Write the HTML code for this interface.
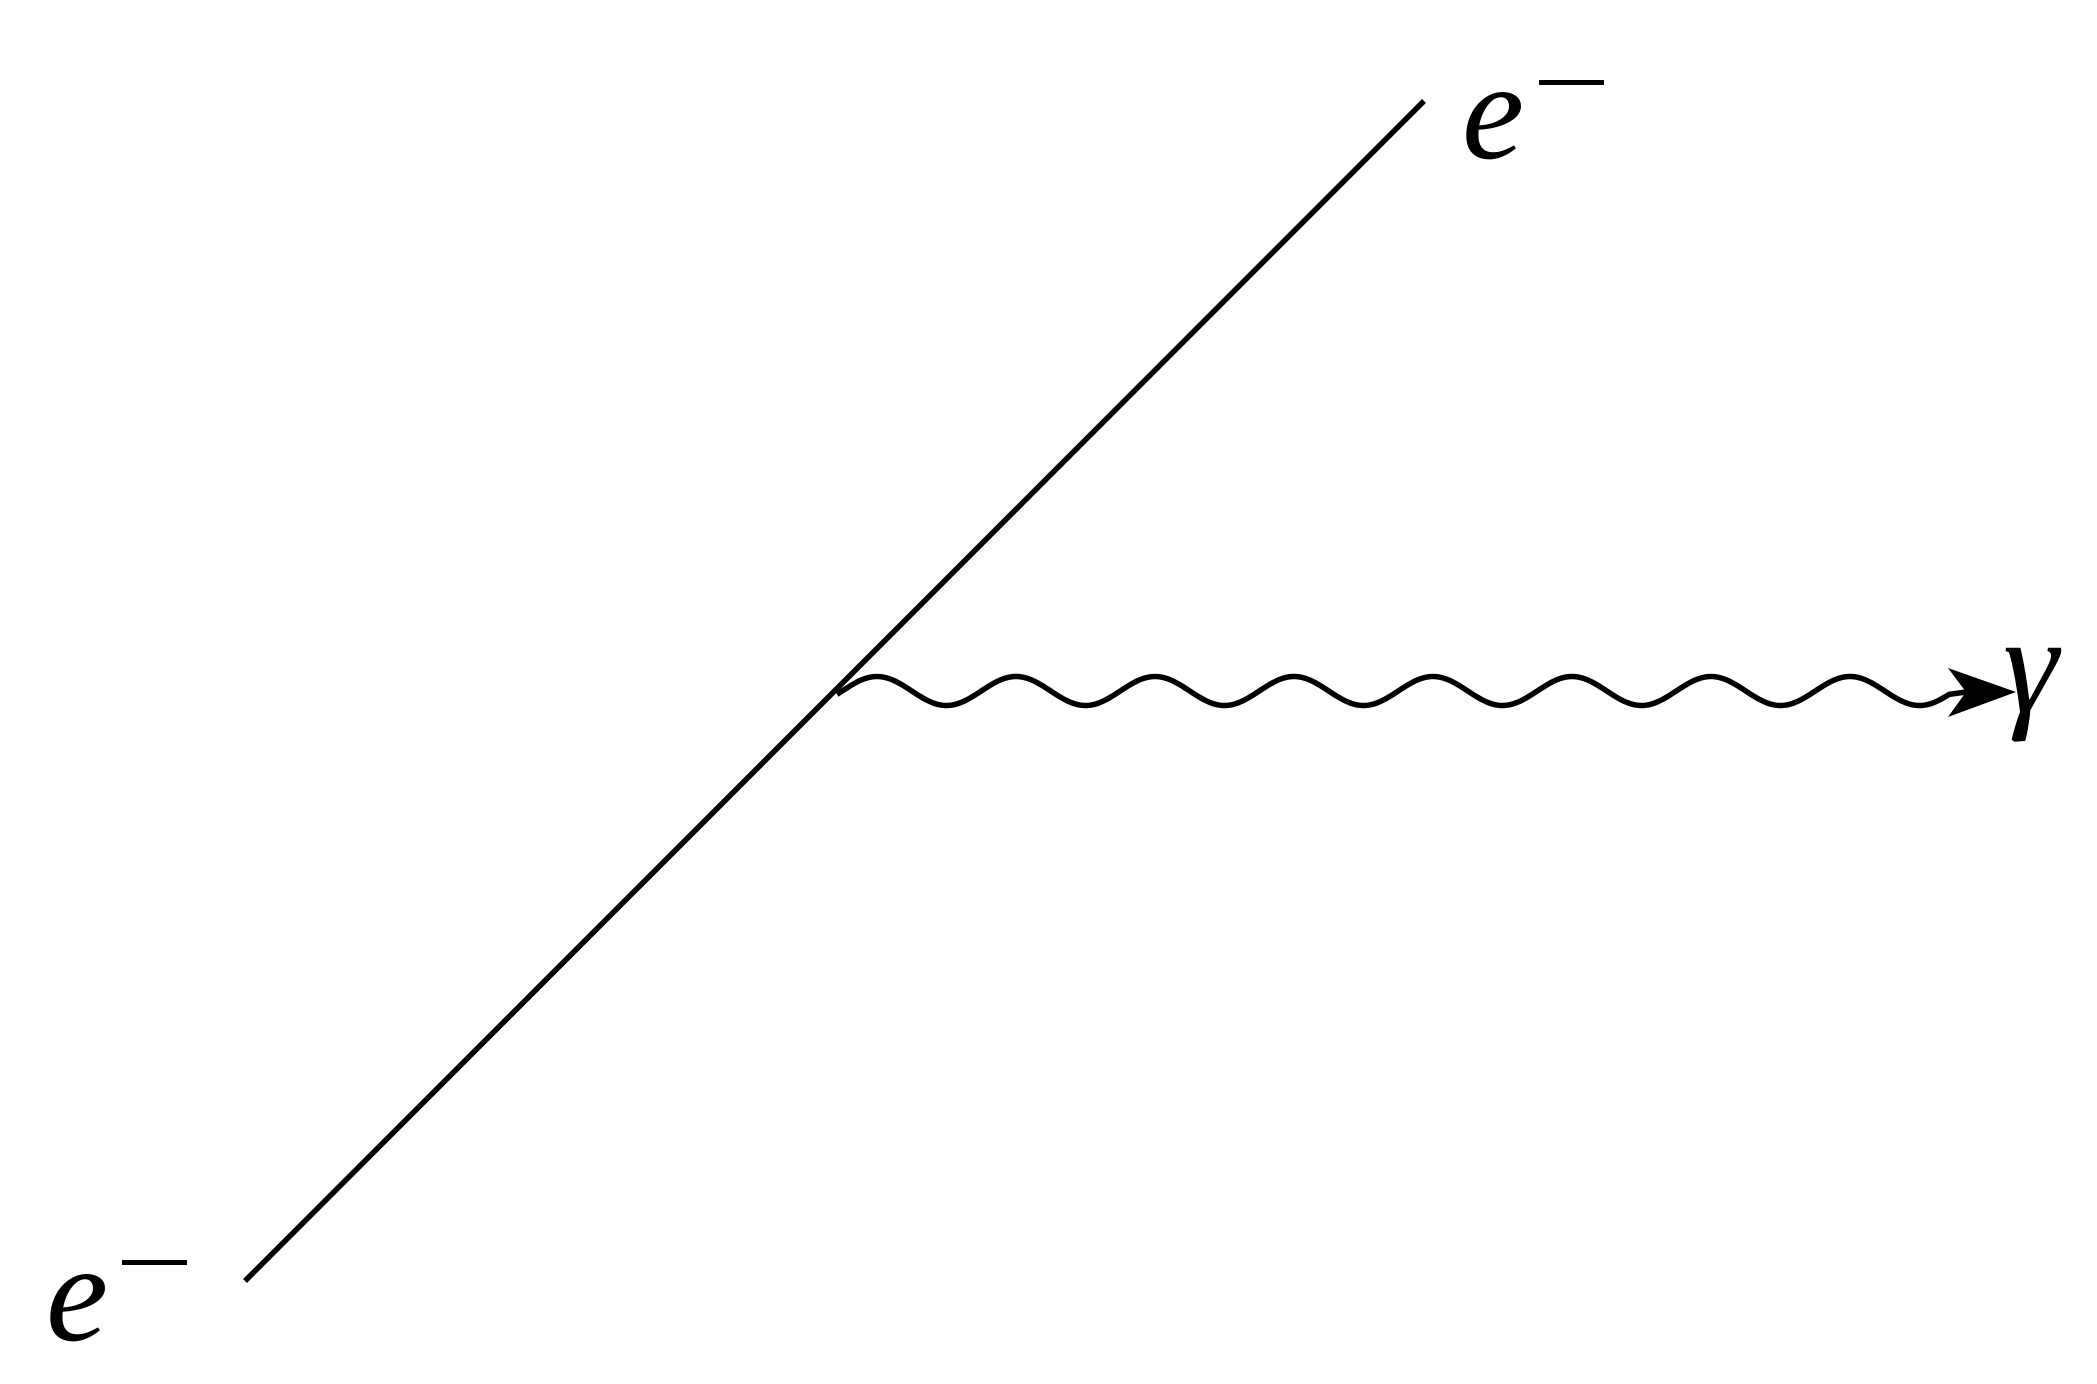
<!DOCTYPE html>
<html><head><meta charset="utf-8"><style>
html,body{margin:0;padding:0;background:#fff;}
svg{display:block;}
text{font-family:"Liberation Serif","DejaVu Serif",serif;font-style:italic;fill:#000;}
</style></head><body>
<svg width="2097" height="1384" viewBox="0 0 2097 1384">
<rect width="2097" height="1384" fill="#fff"/>
<line x1="245" y1="1281" x2="1424" y2="101" stroke="#000" stroke-width="5.5"/>
<path id="wave" d="" fill="none" stroke="#000" stroke-width="5.5"/>
<polygon points="2016,692 1948,668 1966,692 1948,717" fill="#000"/>
<text x="1462" y="158" font-size="140">e</text>
<rect x="1539" y="80" width="65" height="5" fill="#000"/>
<text x="46" y="1340" font-size="140">e</text>
<rect x="122" y="1260" width="65" height="5" fill="#000"/>
<text x="2003" y="712" font-size="140">γ</text>
</svg>
<script>
var d='';
for(var x=837;x<=1950;x+=2){
  var y=691-14.5*Math.cos(2*Math.PI*(x-877)/139);
  d+=(x===837?'M':'L')+x+','+y.toFixed(2);
}
d+='L1966,692';
document.getElementById('wave').setAttribute('d',d);
</script>
</body></html>
